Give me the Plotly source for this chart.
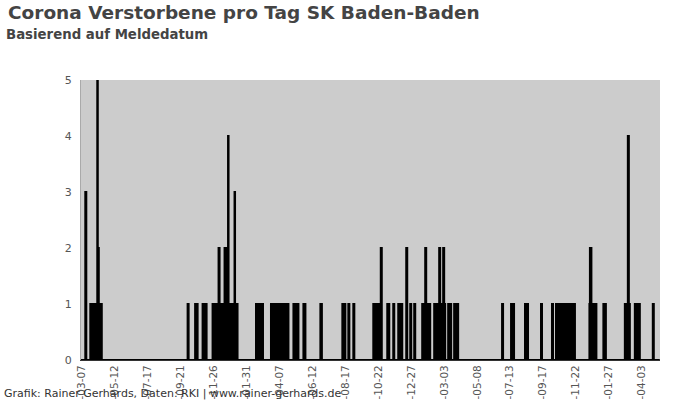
import plotly.graph_objects as go

# Step data: deaths per day, value holds from the date until the next date
change_dates = [
    "2020-03-05", "2020-03-14", "2020-03-16", "2020-03-24", "2020-04-07", "2020-04-08",
    "2020-04-10", "2020-04-16", "2020-10-05", "2020-10-07", "2020-10-20", "2020-10-25",
    "2020-11-04", "2020-11-12", "2020-11-24", "2020-12-06", "2020-12-08", "2020-12-18",
    "2020-12-25", "2020-12-26", "2021-01-07", "2021-01-08", "2021-01-13", "2021-02-19",
    "2021-03-05", "2021-03-21", "2021-04-25", "2021-05-05", "2021-05-15", "2021-05-25",
    "2021-05-29", "2021-06-28", "2021-07-01", "2021-08-11", "2021-08-17", "2021-08-23",
    "2021-08-25", "2021-09-02", "2021-09-04", "2021-10-12", "2021-10-27", "2021-10-29",
    "2021-11-09", "2021-11-13", "2021-11-21", "2021-11-23", "2021-12-01", "2021-12-09",
    "2021-12-17", "2021-12-19", "2021-12-25", "2021-12-27", "2022-01-02", "2022-01-04",
    "2022-01-18", "2022-01-24", "2022-01-26", "2022-02-03", "2022-02-11", "2022-02-21",
    "2022-02-23", "2022-03-01", "2022-03-03", "2022-03-05", "2022-03-11", "2022-03-17",
    "2022-03-23", "2022-03-31", "2022-06-27", "2022-06-29", "2022-07-15", "2022-07-21",
    "2022-08-12", "2022-08-18", "2022-09-13", "2022-09-15", "2022-10-05", "2022-10-07",
    "2022-10-13", "2022-11-20", "2022-12-19", "2022-12-20", "2022-12-23", "2023-01-02",
    "2023-01-16", "2023-01-21", "2023-02-28", "2023-03-06", "2023-03-08", "2023-03-10",
    "2023-03-20", "2023-03-30", "2023-04-25", "2023-04-27", "2023-05-09",
]
deaths = [
    0, 3, 0, 1, 5, 2,
    1, 0, 1, 0, 1, 0,
    1, 0, 1, 2, 1, 2,
    4, 1, 3, 1, 0, 1,
    0, 1, 0, 1, 0, 1,
    0, 1, 0, 1, 0, 1,
    0, 1, 0, 1, 2, 0,
    1, 0, 1, 0, 1, 0,
    2, 0, 1, 0, 1, 0,
    1, 2, 1, 0, 1, 2,
    1, 2, 1, 0, 1, 0,
    1, 0, 1, 0, 1, 0,
    1, 0, 1, 0, 1, 0,
    1, 0, 1, 2, 1, 0,
    1, 0, 1, 4, 1, 0,
    1, 0, 1, 0, 0,
]

tick_dates = [
    "2020-03-07", "2020-05-12", "2020-07-17", "2020-09-21", "2020-11-26", "2021-01-31",
    "2021-04-07", "2021-06-12", "2021-08-17", "2021-10-22", "2021-12-27", "2022-03-03",
    "2022-05-08", "2022-07-13", "2022-09-17", "2022-11-22", "2023-01-27", "2023-04-03",
]
# visible part of each tick label (the year runs off the bottom edge in the original)
tick_labels = [
    "-03-07", "-05-12", "-07-17", "-09-21", "-11-26", "-01-31",
    "-04-07", "-06-12", "-08-17", "-10-22", "-12-27", "-03-03",
    "-05-08", "-07-13", "-09-17", "-11-22", "-01-27", "-04-03",
]
y_ticks = [0, 1, 2, 3, 4, 5]

title_text = "Corona Verstorbene pro Tag SK Baden-Baden"
subtitle_text = "Basierend auf Meldedatum"
footer_text = "Grafik: Rainer Gerhards, Daten: RKI | www.rainer-gerhards.de"

W, H = 700, 400
L, R, T, B = 81, 40, 80, 40
pw, ph = W - L - R, H - T - B


def px(x):
    return (x - L) / pw


def py(y):
    return (H - B - y) / ph


fig = go.Figure()
fig.add_trace(go.Scatter(
    x=change_dates, y=deaths, mode="lines", line=dict(shape="hv", color="black", width=2),
    fill="tozeroy", fillcolor="black", hoverinfo="skip", showlegend=False,
))

font_family = "DejaVu Sans"
fig.update_layout(
    width=W, height=H,
    margin=dict(l=L, r=R, t=T, b=B),
    paper_bgcolor="white", plot_bgcolor="#cccccc",
    font=dict(family=font_family, color="#555555", size=11),
    showlegend=False,
    xaxis=dict(
        type="date", range=["2020-03-05 09:00", "2023-05-09 10:00"],
        tickmode="array", tickvals=tick_dates, ticktext=tick_labels,
        tickangle=-90, tickfont=dict(size=10.5, color="#555555"),
        showgrid=False, zeroline=False, automargin=False,
        showline=True, linecolor="#333333", linewidth=1,
        ticks="", ticklabelstandoff=0,
    ),
    yaxis=dict(
        range=[0, 5], tickmode="array", tickvals=y_ticks,
        tickfont=dict(size=11, color="#555555"),
        showgrid=False, zeroline=False, automargin=False,
        showline=True, linecolor="#aaaaaa", linewidth=1,
        ticks="outside", ticklen=6, tickcolor="rgba(0,0,0,0)",
    ),
    annotations=[
        dict(text="<b>" + title_text + "</b>", xref="paper", yref="paper",
             x=px(6), y=py(13), xanchor="left", yanchor="middle", showarrow=False,
             font=dict(family=font_family, size=18.5, color="#444444")),
        dict(text="<b>" + subtitle_text + "</b>", xref="paper", yref="paper",
             x=px(4), y=py(35), xanchor="left", yanchor="middle", showarrow=False,
             font=dict(family=font_family, size=13.3, color="#444444")),
        dict(text=footer_text, xref="paper", yref="paper",
             x=px(2), y=py(393), xanchor="left", yanchor="middle", showarrow=False,
             font=dict(family=font_family, size=11, color="#333333")),
    ],
)

fig.write_html("out.html", config={"displayModeBar": False},
               post_script="document.body.style.margin='0';")
